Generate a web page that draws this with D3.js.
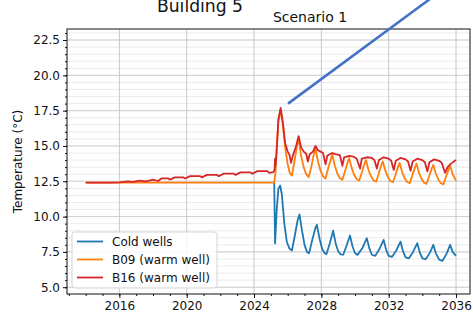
<!DOCTYPE html>
<html>
<head>
<meta charset="utf-8">
<script src="https://cdn.jsdelivr.net/npm/d3@7"></script>
<style>
  body { margin: 0; background: #fff; }
  svg { display: block; font-family: "DejaVu Sans", sans-serif; }
</style>
</head>
<body>
<svg width="473" height="314"></svg>
<script>
// ---- data: [year, temperature] ----
const coldWells = [
  [2025.20,12.4],[2025.25,8.1],[2025.35,10.5],[2025.45,12.0],[2025.55,12.2],[2025.65,11.6],
  [2025.80,9.5],[2025.95,8.2],[2026.10,7.75],[2026.25,7.6],[2026.40,8.5],[2026.60,9.8],
  [2026.70,10.15],[2026.85,9.0],[2027.00,8.0],[2027.15,7.5],[2027.27,7.4],[2027.45,8.3],
  [2027.65,9.2],[2027.73,9.42],[2027.90,8.4],[2028.05,7.7],[2028.20,7.4],[2028.30,7.34],
  [2028.50,8.1],[2028.70,9.0],[2028.85,8.1],[2029.00,7.55],[2029.15,7.32],[2029.30,7.3],
  [2029.50,7.95],[2029.70,8.66],[2029.85,7.9],[2030.00,7.4],[2030.15,7.29],[2030.45,7.8],
  [2030.70,8.47],[2030.85,7.75],[2031.00,7.3],[2031.20,7.22],[2031.45,7.7],[2031.70,8.35],
  [2031.85,7.65],[2032.00,7.22],[2032.20,7.15],[2032.45,7.6],[2032.70,8.23],[2032.85,7.55],
  [2033.00,7.12],[2033.20,7.05],[2033.45,7.5],[2033.70,8.12],[2033.85,7.45],[2034.00,7.05],
  [2034.20,6.98],[2034.45,7.45],[2034.65,8.0],[2034.80,7.4],[2035.00,6.95],[2035.20,6.87],
  [2035.45,7.4],[2035.65,8.0],[2035.80,7.5],[2036.00,7.22]
];

const b09 = [
  [2014.0,12.4],[2025.20,12.4],[2025.28,13.2],[2025.35,15.0],[2025.45,16.8],[2025.58,17.5],
  [2025.70,16.6],[2025.85,14.9],[2026.00,13.7],[2026.12,13.1],[2026.25,12.9],[2026.40,13.9],
  [2026.55,15.0],[2026.65,15.5],[2026.80,14.3],[2026.95,13.5],[2027.10,13.0],[2027.25,12.8],
  [2027.40,13.5],[2027.55,14.4],[2027.65,14.85],[2027.80,13.9],[2027.95,13.25],[2028.10,12.85],
  [2028.25,12.7],[2028.40,13.4],[2028.55,14.0],[2028.65,14.4],[2028.80,13.6],[2028.95,13.05],
  [2029.10,12.72],[2029.25,12.6],[2029.40,13.2],[2029.55,13.8],[2029.65,14.15],[2029.80,13.45],
  [2029.95,12.95],[2030.10,12.65],[2030.25,12.55],[2030.40,13.1],[2030.55,13.7],[2030.65,14.0],
  [2030.80,13.3],[2030.95,12.85],[2031.10,12.57],[2031.25,12.47],[2031.40,13.0],[2031.55,13.6],
  [2031.65,13.9],[2031.80,13.25],[2031.95,12.8],[2032.10,12.52],[2032.25,12.43],[2032.40,12.95],
  [2032.55,13.5],[2032.65,13.8],[2032.80,13.15],[2032.95,12.72],[2033.10,12.45],[2033.25,12.36],
  [2033.40,12.9],[2033.55,13.45],[2033.65,13.75],[2033.80,13.1],[2033.95,12.68],[2034.10,12.4],
  [2034.25,12.32],[2034.40,12.85],[2034.55,13.38],[2034.65,13.67],[2034.80,13.05],[2034.95,12.63],
  [2035.10,12.36],[2035.25,12.28],[2035.40,12.8],[2035.55,13.3],[2035.65,13.6],[2035.80,13.0],
  [2036.00,12.55]
];

const b16 = [
  [2014.0,12.4],[2015.5,12.4],[2016.0,12.42],[2016.5,12.5],[2016.8,12.45],[2017.2,12.55],
  [2017.6,12.5],[2018.0,12.62],[2018.3,12.52],[2018.5,12.7],[2018.9,12.7],[2019.0,12.62],
  [2019.3,12.78],[2019.8,12.78],[2019.9,12.7],[2020.2,12.86],[2020.8,12.86],[2020.9,12.78],
  [2021.2,12.95],[2021.8,12.95],[2021.9,12.86],[2022.2,13.04],[2022.8,13.04],[2022.9,12.95],
  [2023.2,13.13],[2023.8,13.13],[2023.9,13.03],[2024.2,13.22],[2024.8,13.22],[2024.9,13.1],
  [2025.15,13.15],[2025.22,13.3],[2025.25,14.1],[2025.28,13.6],[2025.33,14.3],[2025.45,16.9],
  [2025.58,17.7],[2025.70,16.8],[2025.85,15.2],[2026.00,14.6],[2026.10,14.4],[2026.20,13.8],
  [2026.30,14.3],[2026.50,15.0],[2026.65,15.7],[2026.80,14.9],[2026.95,14.6],[2027.10,14.45],
  [2027.20,13.9],[2027.30,14.4],[2027.50,14.6],[2027.65,15.0],[2027.80,14.7],[2027.95,14.6],
  [2028.10,14.5],[2028.25,13.7],[2028.35,14.3],[2028.55,14.45],[2028.65,14.5],[2028.90,14.4],
  [2029.10,14.35],[2029.25,13.6],[2029.35,14.2],[2029.65,14.3],[2029.90,14.25],[2030.10,14.1],
  [2030.30,13.4],[2030.40,14.1],[2030.70,14.2],[2031.00,14.15],[2031.15,14.0],[2031.30,13.4],
  [2031.42,14.0],[2031.70,14.2],[2032.00,14.1],[2032.15,13.95],[2032.30,13.3],[2032.42,13.95],
  [2032.70,14.15],[2033.00,14.05],[2033.15,13.9],[2033.30,13.25],[2033.42,13.9],[2033.70,14.1],
  [2034.00,14.0],[2034.15,13.85],[2034.30,13.2],[2034.42,13.85],[2034.70,14.05],[2035.00,13.95],
  [2035.15,13.8],[2035.35,13.1],[2035.50,13.5],[2035.70,13.75],[2036.00,14.0]
];

// stray annotation stroke drawn over the figure
const annotation = [[2026.02, 18.0], [2034.45, 25.4]];

const seriesNames = ["Cold wells", "B09 (warm well)", "B16 (warm well)"];
const seriesColors = ["#1f77b4", "#ff7f0e", "#d62728"];
const xTicks = [2016, 2020, 2024, 2028, 2032, 2036];
const yTicks = [5.0, 7.5, 10.0, 12.5, 15.0, 17.5, 20.0, 22.5];

const svg = d3.select("svg");
const margin = { left: 67, top: 29, right: 3, bottom: 20 };
const width = +svg.attr("width");
const height = +svg.attr("height");
const plotW = width - margin.left - margin.right;
const plotH = height - margin.top - margin.bottom;

const x = d3.scaleLinear().domain([2012.89, 2036.83]).range([margin.left, margin.left + plotW]);
const y = d3.scaleLinear().domain([4.52, 23.28]).range([margin.top + plotH, margin.top]);

const xMinor = d3.range(2013, 2037, 1);
const yMinor = d3.range(5, 23.5, 0.5);

// grid
const grid = svg.append("g");
grid.selectAll(".ymin").data(yMinor).join("line")
  .attr("x1", margin.left).attr("x2", margin.left + plotW)
  .attr("y1", d => y(d)).attr("y2", d => y(d))
  .attr("stroke", "#e6e6e6").attr("stroke-width", 0.8);
grid.selectAll(".ymaj").data(yTicks).join("line")
  .attr("x1", margin.left).attr("x2", margin.left + plotW)
  .attr("y1", d => y(d)).attr("y2", d => y(d))
  .attr("stroke", "#d0d0d0").attr("stroke-width", 1);
grid.selectAll(".xmaj").data(xTicks).join("line")
  .attr("y1", margin.top).attr("y2", margin.top + plotH)
  .attr("x1", d => x(d)).attr("x2", d => x(d))
  .attr("stroke", "#c8c8c8").attr("stroke-width", 1);

// clip
svg.append("defs").append("clipPath").attr("id", "plotClip")
  .append("rect").attr("x", margin.left).attr("y", margin.top)
  .attr("width", plotW).attr("height", plotH);

const line = d3.line().x(d => x(d[0])).y(d => y(d[1]));
const plot = svg.append("g").attr("clip-path", "url(#plotClip)");
[coldWells, b09, b16].forEach((s, i) => {
  plot.append("path").datum(s)
    .attr("d", line)
    .attr("fill", "none")
    .attr("stroke", seriesColors[i])
    .attr("stroke-width", 1.8)
    .attr("stroke-linejoin", "round");
});

// axes
const xAxis = d3.axisBottom(x).tickValues(xTicks).tickFormat(d3.format("d")).tickSize(4).tickPadding(3);
const xAxisMinor = d3.axisBottom(x).tickValues(xMinor).tickFormat("").tickSize(2);
const yAxis = d3.axisLeft(y).tickValues(yTicks).tickFormat(d3.format(".1f")).tickSize(4).tickPadding(3);
const yAxisMinor = d3.axisLeft(y).tickValues(yMinor).tickFormat("").tickSize(2);

function styleAxis(g) {
  g.select(".domain").remove();
  g.selectAll("text").attr("font-size", 12).attr("fill", "#111").attr("font-family", "DejaVu Sans");
  g.selectAll("line").attr("stroke", "#111");
}
svg.append("g").attr("transform", `translate(0,${margin.top + plotH})`).call(xAxisMinor).call(styleAxis);
svg.append("g").attr("transform", `translate(0,${margin.top + plotH})`).call(xAxis).call(styleAxis);
svg.append("g").attr("transform", `translate(${margin.left},0)`).call(yAxisMinor).call(styleAxis);
svg.append("g").attr("transform", `translate(${margin.left},0)`).call(yAxis).call(styleAxis);

// frame
svg.append("rect")
  .attr("x", margin.left).attr("y", margin.top)
  .attr("width", plotW).attr("height", plotH)
  .attr("fill", "none").attr("stroke", "#111").attr("stroke-width", 1);

// legend
const legend = svg.append("g").attr("transform", "translate(72,232)");
legend.append("rect")
  .attr("width", 145).attr("height", 56).attr("rx", 3)
  .attr("fill", "#fff").attr("fill-opacity", 0.85)
  .attr("stroke", "#d5d5d5");
seriesNames.forEach((name, i) => {
  const cy = 9.5 + i * 18;
  legend.append("line").attr("x1", 5).attr("x2", 31).attr("y1", cy).attr("y2", cy)
    .attr("stroke", seriesColors[i]).attr("stroke-width", 1.8);
  legend.append("text").attr("x", 40).attr("y", cy + 4.3)
    .attr("font-size", 12).attr("fill", "#111").text(name);
});

// titles
svg.append("text").attr("x", 200).attr("y", 12).attr("text-anchor", "middle")
  .attr("font-size", 17.2).attr("fill", "#111").text("Building 5");
svg.append("text").attr("x", 310).attr("y", 22).attr("text-anchor", "middle")
  .attr("font-size", 14).attr("fill", "#111").text("Scenario 1");
svg.append("text")
  .attr("transform", `translate(22,${margin.top + plotH / 2}) rotate(-90)`)
  .attr("text-anchor", "middle")
  .attr("font-size", 12).attr("fill", "#111").text("Temperature (°C)");

// annotation stroke (not clipped)
svg.append("path").datum(annotation)
  .attr("d", line)
  .attr("fill", "none").attr("stroke", "#4472c4").attr("stroke-width", 2.6)
  .attr("stroke-linecap", "butt");
</script>
</body>
</html>
